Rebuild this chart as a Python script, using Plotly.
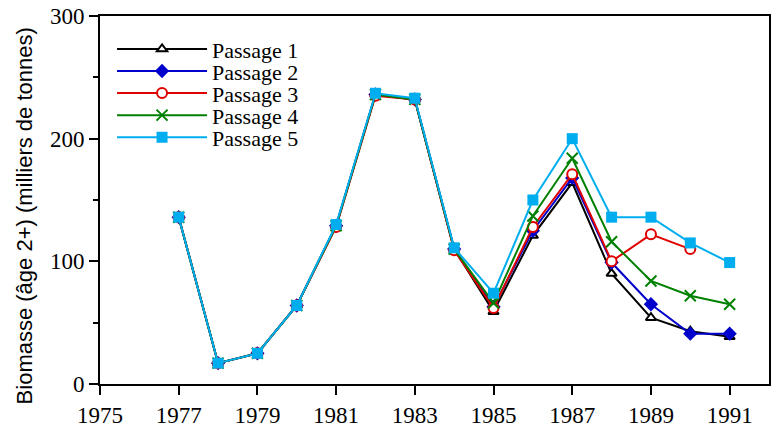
import plotly.graph_objects as go

years = list(range(1977, 1992))
passage1 = [136, 17, 25, 64, 129, 236, 232, 110, 59, 121, 164, 90, 54, 43, 38.5]
passage2 = [136, 17, 25, 64, 129, 236, 232, 110, 63, 125, 168, 99, 65, 41, 41]
passage3 = [136, 17, 25, 64, 128, 235, 232, 109, 62, 128, 171, 100, 122, 110, None]
passage4 = [136, 17, 25, 64, 129, 236, 232, 110, 66, 137, 184, 116, 84, 72, 65]
passage5 = [136, 17, 25, 64, 130, 237, 233, 111, 74, 150, 200, 136, 136, 115, 99]

names = ["Passage 1", "Passage 2", "Passage 3", "Passage 4", "Passage 5"]
series = [passage1, passage2, passage3, passage4, passage5]
colors = ["#000000", "#0000CC", "#E00000", "#008000", "#00AEEF"]
markers = [
    dict(symbol="triangle-up", size=9, color="white", line=dict(color="#000000", width=2)),
    dict(symbol="diamond", size=11, color="#0000CC", line=dict(color="#0000CC", width=0)),
    dict(symbol="circle", size=10, color="white", line=dict(color="#E00000", width=2)),
    dict(symbol="x-thin-open", size=11, color="#008000", line=dict(color="#008000", width=2)),
    dict(symbol="square", size=11, color="#00AEEF", line=dict(color="#00AEEF", width=0)),
]

SERIF = "Times New Roman"
SANS = "Liberation Sans"

legend_keys = ["legend", "legend2", "legend3", "legend4", "legend5"]
legend_y = [0.910, 0.850, 0.790, 0.730, 0.670]

fig = go.Figure()
for n, s, c, m, lk in zip(names, series, colors, markers, legend_keys):
    fig.add_trace(go.Scatter(x=years, y=s, name=n, mode="lines+markers",
                             line=dict(color=c, width=2), marker=m, legend=lk))

legend_layout = {}
for lk, ly in zip(legend_keys, legend_y):
    legend_layout[lk] = dict(x=0.018, y=ly, xanchor="left", yanchor="middle",
                             font=dict(family=SERIF, size=22, color="black"),
                             bgcolor="rgba(0,0,0,0)", itemwidth=90)

fig.update_layout(
    width=773, height=432,
    margin=dict(l=100, r=2, t=16, b=48),
    plot_bgcolor="white", paper_bgcolor="white",
    font=dict(family=SERIF, size=22, color="black"),
    showlegend=True,
    xaxis=dict(range=[1975, 1992], tickmode="array",
               tickvals=list(range(1975, 1992, 2)),
               ticks="outside", ticklen=9, tickwidth=2, tickcolor="black",
               showline=True, linewidth=2, linecolor="black", mirror=True,
               showgrid=False, zeroline=False),
    yaxis=dict(range=[0, 300], tickmode="array", tickvals=[0, 100, 200, 300],
               ticks="outside", ticklen=9, tickwidth=2, tickcolor="black",
               minor=dict(tickvals=[50, 150, 250], ticks="outside", ticklen=5,
                          tickwidth=2, tickcolor="black"),
               showline=True, linewidth=2, linecolor="black", mirror=True,
               showgrid=False, zeroline=False),
    annotations=[dict(text="Biomasse (âge 2+) (milliers de tonnes)",
                      xref="paper", yref="paper", x=-0.113, y=0.4565,
                      xanchor="center", yanchor="middle", textangle=-90,
                      showarrow=False,
                      font=dict(family=SANS, size=22, color="black"))],
    **legend_layout,
)
fig.update_xaxes(tickfont_family=SERIF, tickfont_size=23, tickfont_color="black")
fig.update_yaxes(tickfont_family=SERIF, tickfont_size=23, tickfont_color="black")

fig.write_html("out.html")
